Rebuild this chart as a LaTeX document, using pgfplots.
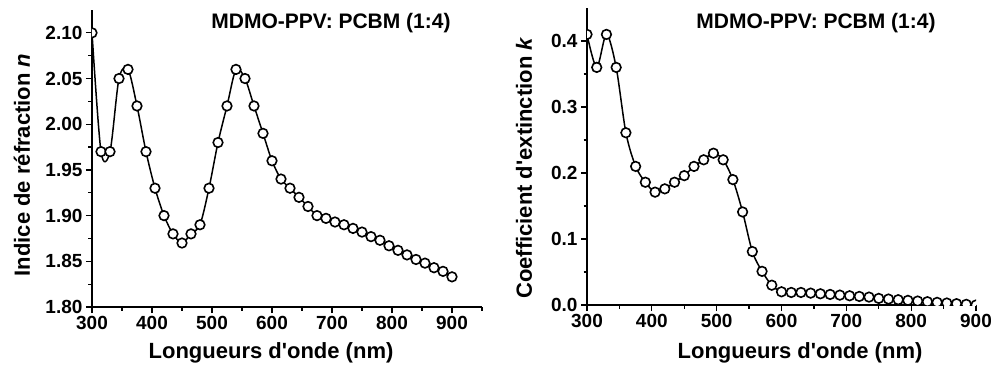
\documentclass[border=0pt]{standalone}
\usepackage{fontspec}
\setmainfont{Liberation Sans}
\usepackage{pgfplots}
\pgfplotsset{compat=1.18}

\pgfplotstableread{
x n
300 2.100
315 1.970
330 1.970
345 2.050
360 2.060
375 2.020
390 1.970
405 1.930
420 1.900
435 1.880
450 1.870
465 1.880
480 1.890
495 1.930
510 1.980
525 2.020
540 2.060
555 2.050
570 2.020
585 1.990
600 1.960
615 1.940
630 1.930
645 1.920
660 1.910
675 1.900
690 1.897
705 1.893
720 1.890
735 1.886
750 1.882
765 1.877
780 1.873
795 1.867
810 1.862
825 1.857
840 1.852
855 1.848
870 1.843
885 1.839
900 1.833
}\ndata

\pgfplotstableread{
x k
300 0.410
315 0.360
330 0.410
345 0.360
360 0.261
375 0.210
390 0.186
405 0.171
420 0.176
435 0.186
450 0.196
465 0.210
480 0.220
495 0.230
510 0.220
525 0.190
540 0.141
555 0.081
570 0.051
585 0.030
600 0.020
615 0.019
630 0.019
645 0.018
660 0.017
675 0.016
690 0.015
705 0.014
720 0.013
735 0.012
750 0.010
765 0.009
780 0.008
795 0.007
810 0.006
825 0.005
840 0.004
855 0.003
870 0.002
885 0.001
900 0.000
}\kdata

\pgfplotsset{
  myax/.style={
    scale only axis,
    axis lines=left,
    axis line style={-, line width=1.5pt},
    tick align=outside,
    major tick length=6pt,
    minor tick length=3.5pt,
    every tick/.style={black, line width=1.3pt},
    tick label style={font=\fontsize{19}{19}\selectfont\bfseries},
    /pgf/number format/assume math mode=true,
    clip marker paths=true,
  },
  myplot/.style={
    black, line width=1.5pt, smooth, tension=0.5,
    mark=*, mark size=4.8pt,
    mark options={fill=white, draw=black, line width=1.6pt, solid},
  }
}

\begin{document}
\begin{tikzpicture}[x=1pt,y=1pt]
\useasboundingbox (0,0) rectangle (991,365);

\begin{axis}[myax,
  at={(92pt,58pt)}, anchor=south west,
  width=390pt, height=297pt,
  xmin=300, xmax=950, ymin=1.80, ymax=2.125,
  xtick={300,400,500,600,700,800,900},
  minor xtick={350,450,550,650,750,850,950},
  ytick={1.80,1.85,1.90,1.95,2.00,2.05,2.10},
  minor ytick={1.825,1.875,1.925,1.975,2.025,2.075},
  yticklabel style={/pgf/number format/.cd, fixed, fixed zerofill, precision=2},
  xticklabel style={/pgf/number format/.cd, fixed, precision=0},
]
\addplot[myplot] table[x=x,y=n] {\ndata};
\end{axis}

\begin{axis}[myax,
  at={(587pt,60pt)}, anchor=south west,
  width=389pt, height=297pt,
  xmin=300, xmax=900, ymin=0, ymax=0.45,
  xtick={300,400,500,600,700,800,900},
  minor xtick={350,450,550,650,750,850},
  ytick={0,0.1,0.2,0.3,0.4},
  minor ytick={0.05,0.15,0.25,0.35},
  yticklabel style={/pgf/number format/.cd, fixed, fixed zerofill, precision=1},
  xticklabel style={/pgf/number format/.cd, fixed, precision=0},
]
\addplot[myplot] table[x=x,y=k] {\kdata};
\end{axis}

\node[anchor=base, font=\fontsize{21}{21}\selectfont\bfseries] at (331,336) {MDMO-PPV: PCBM (1:4)};
\node[anchor=base, font=\fontsize{21}{21}\selectfont\bfseries] at (816,336) {MDMO-PPV: PCBM (1:4)};

\node[anchor=base, font=\fontsize{22}{22}\selectfont\bfseries] at (271,7) {Longueurs d\textquotesingle onde (nm)};
\node[anchor=base, font=\fontsize{22}{22}\selectfont\bfseries] at (800,7) {Longueurs d\textquotesingle onde (nm)};

\node[rotate=90, anchor=center, font=\fontsize{22}{22}\selectfont\bfseries] at (22,200) {Indice de réfraction \textit{n}};
\node[rotate=90, anchor=center, font=\fontsize{22}{22}\selectfont\bfseries] at (524,197) {Coefficient d\textquotesingle extinction \textit{k}};
\end{tikzpicture}
\end{document}
